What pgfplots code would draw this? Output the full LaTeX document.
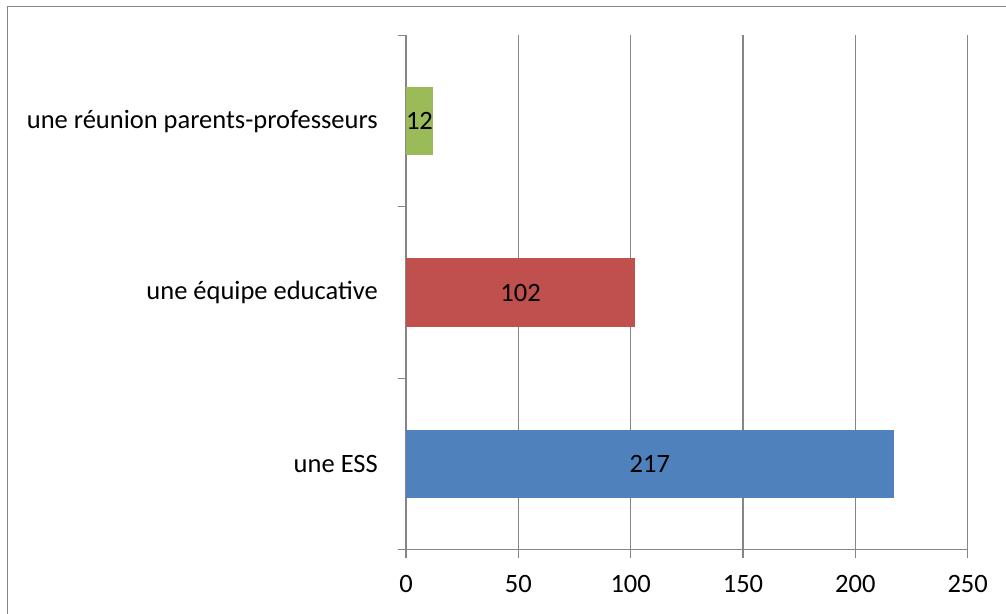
\documentclass[border=0pt]{standalone}
\usepackage{pgfplots}
\pgfplotsset{compat=1.18}
\usepackage{fontspec}
\setmainfont{Carlito}
\definecolor{axisgray}{RGB}{134,134,134}
\definecolor{barblue}{HTML}{4F81BD}
\definecolor{barred}{HTML}{C0504D}
\definecolor{bargreen}{HTML}{9BBB59}
\newcommand{\lblfont}{\fontsize{26.5bp}{32bp}\selectfont}
\begin{document}
\begin{tikzpicture}
\useasboundingbox (0,0) rectangle (1006bp,614bp);
\draw[axisgray, line width=1.5bp] (7.5bp,-20bp) |- (1030bp,607.5bp);
\begin{axis}[
  at={(406bp,64.5bp)}, anchor=south west,
  scale only axis, width=561.7bp, height=514bp,
  xmin=0, xmax=250, ymin=-0.5, ymax=2.5,
  xtick={0,50,100,150,200,250},
  ytick={0,1,2},
  yticklabels={une ESS, une équipe educative, une réunion parents-professeurs},
  minor ytick={-0.5,0.5,1.5,2.5},
  major y tick style={draw=none},
  tick align=outside,
  major tick length=8bp, minor tick length=8bp,
  tick style={axisgray, line width=1.3bp},
  xmajorgrids,
  major x grid style={axisgray, line width=1.3bp},
  axis x line*=bottom, axis y line*=left,
  axis line style={-, axisgray, line width=1.3bp},
  /pgf/number format/assume math mode=true,
  tick label style={font=\lblfont, text=black},
  xticklabel style={anchor=base, inner sep=0pt, yshift=-35bp},
  yticklabel style={anchor=east, inner sep=0pt, xshift=-20bp},
  clip=false,
]
\addplot[xbar, bar shift=0pt, bar width=68.5bp, fill=barblue, draw=none] coordinates {(217,0)};
\addplot[xbar, bar shift=0pt, bar width=68.5bp, fill=barred, draw=none] coordinates {(102,1)};
\addplot[xbar, bar shift=0pt, bar width=68.5bp, fill=bargreen, draw=none] coordinates {(12,2)};
\addplot[draw=none, mark=none, nodes near coords, point meta=explicit symbolic,
  nodes near coords style={anchor=center, font=\lblfont, text=black, inner sep=0pt}]
  coordinates {(108.5,0) [217] (51,1) [102] (6,2) [12]};
\end{axis}
\end{tikzpicture}
\end{document}
